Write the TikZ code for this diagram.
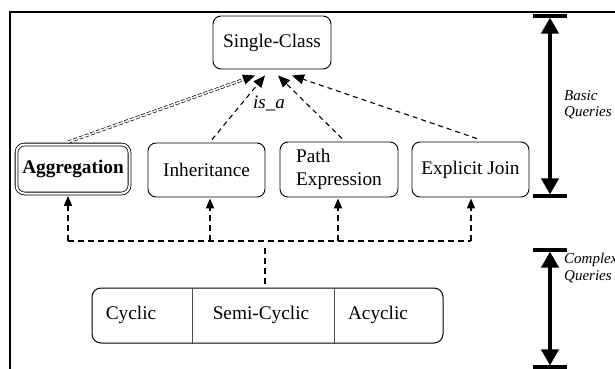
\documentclass[tikz,border=0pt]{standalone}
\usepackage{fontspec}
\setmainfont{Liberation Serif}
\usetikzlibrary{arrows.meta,calc}
\begin{document}
\begin{tikzpicture}[x=1pt,y=-1pt,
  txt/.style={font=\fontsize{19.3}{23}\selectfont},
  box/.style={txt, draw, line width=0.9pt, rounded corners=8pt, inner sep=0pt, align=center},
  updash/.style={draw, line width=1.1pt, dash pattern=on 5pt off 4pt},
  uptip/.style={draw, line width=1.1pt, -{Triangle[length=12pt,width=10pt]}},
  lowdash/.style={draw, line width=1.6pt, dash pattern=on 6pt off 4pt},
  lowarrow/.style={lowdash, -{Triangle[length=10pt,width=8pt]}},
  dimarrow/.style={draw, line width=4pt, {Triangle[length=16pt,width=17pt]}-{Triangle[length=16pt,width=17pt]}},
  dimbar/.style={draw, line width=3.3pt},
  dimtext/.style={font=\itshape\fontsize{15}{16.5}\selectfont, align=left, anchor=north west, inner sep=0pt},
  divider/.style={draw, line width=0.9pt, black!70}
]
\useasboundingbox (0,0) rectangle (615,369);

% frame
\draw[line width=1.7pt] (10,372) -- (10,12) -- (618,12);

% nodes
\node[box, minimum width=118pt, minimum height=53pt] (sc) at (272,42.5) {Single-Class};
\node[box, double, double distance=2pt, line width=0.8pt, minimum width=113pt, minimum height=49pt, font=\bfseries\fontsize{19.3}{23}\selectfont] (agg) at (73,169) {Aggregation};
\node[box, minimum width=117pt, minimum height=54pt] (inh) at (206.5,170) {Inheritance};
\node[box, minimum width=118pt, minimum height=55pt, align=left] (pe) at (339,169.5) {Path\\Expression};
\node[box, minimum width=117pt, minimum height=55pt] (ej) at (470.5,169.5) {Explicit Join};
\node[draw, line width=1pt, rounded corners=9pt, minimum width=351pt, minimum height=55pt, inner sep=0pt] (cx) at (267.5,315.5) {};
\node[txt] (cyc) at (131,315) {Cyclic};
\node[txt] (semi) at (261,315) {Semi-Cyclic};
\node[txt] (acyc) at (378,315) {Acyclic};
\coordinate (d1) at (192,0);
\coordinate (d2) at (334,0);
\draw[divider] (cx.north -| d1) -- (cx.south -| d1);
\draw[divider] (cx.north -| d2) -- (cx.south -| d2);

% upper connectors
\coordinate (sA) at ([xshift=-5pt,yshift=2pt]agg.north);
\coordinate (tA) at ([xshift=-17pt,yshift=-6pt]sc.south);
\coordinate (sB) at ([xshift=5.5pt,yshift=3pt]inh.north);
\coordinate (tB) at ([xshift=-7pt,yshift=-6pt]sc.south);
\coordinate (sC) at ([xshift=3pt,yshift=3pt]pe.north);
\coordinate (tC) at ([xshift=6pt,yshift=-6pt]sc.south);
\coordinate (sD) at ([xshift=6.5pt,yshift=3pt]ej.north);
\coordinate (tD) at ([xshift=20pt,yshift=-6pt]sc.south);

\draw[line width=0.7pt, double, double distance=1.6pt, dash pattern=on 4pt off 2pt] (sA) -- ($(tA)!10pt!(sA)$);
\path[uptip] ($(tA)!12pt!(sA)$) -- (tA);
\path[updash] (sB) -- ($(tB)!12pt!(sB)$);
\path[uptip] ($(tB)!12pt!(sB)$) -- (tB);
\path[updash] (sC) -- ($(tC)!12pt!(sC)$);
\path[uptip] ($(tC)!12pt!(sC)$) -- (tC);
\path[updash] (sD) -- ($(tD)!12pt!(sD)$);
\path[uptip] ($(tD)!12pt!(sD)$) -- (tD);
\node[font=\itshape\fontsize{19}{23}\selectfont, inner sep=0pt] (isa) at (269,103) {is\_a};

% lower connectors
\coordinate (bus) at (0,241);
\coordinate (bus2) at (0,248);
\coordinate (a1) at ([xshift=-5pt,yshift=-2pt]agg.south);
\coordinate (a2) at ([xshift=3.5pt,yshift=-1pt]inh.south);
\coordinate (a3) at ([xshift=-1pt,yshift=-1pt]pe.south);
\coordinate (a4) at ([xshift=0.5pt,yshift=-1pt]ej.south);
\path[lowdash] (a1 |- bus) -- (a4 |- bus);
\path[lowarrow] (a1 |- bus) -- (a1);
\path[lowarrow] (a2 |- bus) -- (a2);
\path[lowarrow] (a3 |- bus) -- (a3);
\path[lowarrow] (a4 |- bus) -- (a4);
\coordinate (c1) at ([xshift=-2.5pt]cx.north);
\path[lowdash] (c1 |- bus2) -- (c1);

% dimension arrows
\coordinate (b1t) at (550,16);
\coordinate (b1b) at (550,196);
\coordinate (b2t) at (550,250);
\coordinate (b2b) at (550,367);
\foreach \p in {b1t,b1b,b2t,b2b}{
  \path[dimbar] ([xshift=-17pt]\p) -- ([xshift=17pt]\p);
}
\path[dimarrow] ([yshift=-1.6pt]b1t) -- ([yshift=1.6pt]b1b);
\path[dimarrow] ([yshift=-1.6pt]b2t) -- ([yshift=1.6pt]b2b);
\node[dimtext] (basic) at (564,90) {Basic\\Queries};
\node[dimtext] (complex) at (564,253) {Complex\\Queries};
\end{tikzpicture}
\end{document}
